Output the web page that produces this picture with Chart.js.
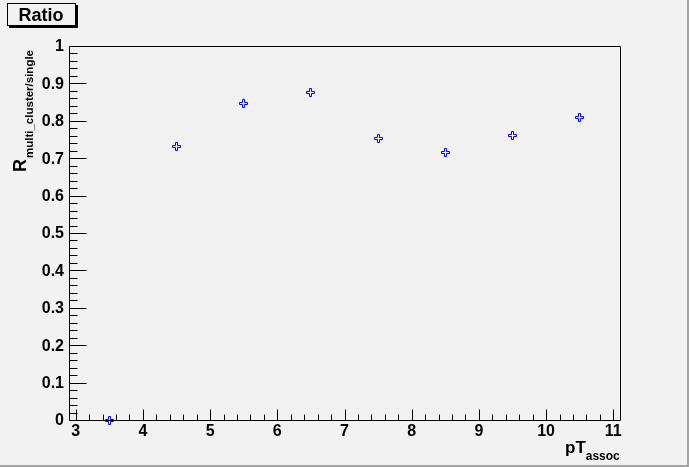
<!DOCTYPE html>
<html>
<head>
<meta charset="utf-8">
<script src="https://cdn.jsdelivr.net/npm/chart.js@4.4.0/dist/chart.umd.min.js"></script>
<style>
  html, body { margin: 0; padding: 0; background: #f2f2f2; }
  #wrap { width: 689px; height: 467px; }
</style>
</head>
<body>
<div id="wrap"><canvas id="chart" width="689" height="467"></canvas></div>
<script>
// data
const ptAssoc = [3.5, 4.5, 5.5, 6.5, 7.5, 8.5, 9.5, 10.5];
const ratio = [0.0, 0.73, 0.845, 0.875, 0.753, 0.715, 0.76, 0.81];

// axis ticks
const xTicks = [3, 4, 5, 6, 7, 8, 9, 10, 11];
const xTickLabels = ["3", "4", "5", "6", "7", "8", "9", "10", "11"];
const yTicks = [0, 0.1, 0.2, 0.3, 0.4, 0.5, 0.6, 0.7, 0.8, 0.9, 1];
const yTickLabels = ["0", "0.1", "0.2", "0.3", "0.4", "0.5", "0.6", "0.7", "0.8", "0.9", "1"];

const FONT = "Liberation Sans, Arial, Helvetica, sans-serif";

// open cross marker, like ROOT marker 28
function crossMarker(color) {
  const c = document.createElement("canvas");
  c.width = 9;
  c.height = 9;
  const g = c.getContext("2d");
  const lo = 0.5, a = 3.5, b = 5.5, hi = 8.5;
  const pts = [[a, lo], [b, lo], [b, a], [hi, a], [hi, b], [b, b], [b, hi], [a, hi], [a, b], [lo, b], [lo, a], [a, a]];
  g.beginPath();
  pts.forEach(([x, y], i) => (i ? g.lineTo(x, y) : g.moveTo(x, y)));
  g.closePath();
  g.strokeStyle = color;
  g.lineWidth = 1;
  g.stroke();
  return c;
}

// canvas background + ROOT-ish frame, ticks pointing inward, title box, axis titles
const rootStyle = {
  id: "rootStyle",
  beforeDraw(chart) {
    const { ctx, width, height } = chart;
    ctx.save();
    ctx.fillStyle = "#f2f2f2";
    ctx.fillRect(0, 0, width, height);
    ctx.fillStyle = "#a3a3a3";
    ctx.fillRect(width - 2, 0, 2, height);
    ctx.fillRect(0, height - 2, width, 2);
    ctx.restore();
  },
  beforeDatasetsDraw(chart) {
    const { ctx, chartArea: ar, scales: { x, y } } = chart;
    const L = Math.round(ar.left) + 0.5, R = Math.round(ar.right) + 0.5;
    const T = Math.round(ar.top) + 0.5, B = Math.round(ar.bottom) + 0.5;
    ctx.save();
    ctx.strokeStyle = "#000";
    ctx.lineWidth = 1;
    ctx.beginPath();
    ctx.rect(L, T, R - L, B - T);
    // x ticks every 0.2, long at integers
    for (let i = 0; i <= 45; i++) {
      const v = 2 + i * 0.2;
      if (v < x.min - 1e-9 || v > x.max + 1e-9) continue;
      const px = Math.round(x.getPixelForValue(v)) + 0.5;
      const len = i % 5 === 0 ? 11 : 6;
      ctx.moveTo(px, B);
      ctx.lineTo(px, B - len);
    }
    // y ticks every 0.02, long at tenths
    for (let i = 0; i <= 50; i++) {
      const v = i * 0.02;
      const py = Math.round(y.getPixelForValue(v)) + 0.5;
      const len = i % 5 === 0 ? 17 : 8;
      ctx.moveTo(L, py);
      ctx.lineTo(L + len, py);
    }
    ctx.stroke();
    ctx.restore();
    // crisp markers
    ctx.imageSmoothingEnabled = false;
  },
  afterDatasetsDraw(chart) {
    chart.ctx.imageSmoothingEnabled = true;
  },
  afterDraw(chart) {
    const { ctx } = chart;
    ctx.save();
    // title box "Ratio"
    ctx.fillStyle = "#000";
    ctx.fillRect(9, 5, 69, 23);
    ctx.fillStyle = "#f2f2f2";
    ctx.fillRect(7, 3, 68, 22);
    ctx.strokeStyle = "#000";
    ctx.lineWidth = 1;
    ctx.strokeRect(7.5, 3.5, 68, 22);
    ctx.fillStyle = "#000";
    ctx.font = "bold 18px " + FONT;
    ctx.textBaseline = "alphabetic";
    ctx.textAlign = "center";
    ctx.fillText("Ratio", 41, 21);

    // x axis title pT_assoc
    ctx.textAlign = "left";
    ctx.font = "bold 17px " + FONT;
    ctx.fillText("pT", 565, 453);
    const w = ctx.measureText("pT").width;
    ctx.font = "bold 12px " + FONT;
    ctx.fillText("assoc", 565 + w, 460);

    // y axis title R_multi_cluster/single
    ctx.translate(26, 172);
    ctx.rotate(-Math.PI / 2);
    ctx.font = "bold 18px " + FONT;
    ctx.fillText("R", 0, 0);
    const wr = ctx.measureText("R").width;
    ctx.font = "bold 11.5px " + FONT;
    ctx.fillText("multi_cluster/single", wr + 1, 7);
    ctx.restore();
  }
};

new Chart(document.getElementById("chart"), {
  type: "scatter",
  data: {
    datasets: [{
      label: "ratio",
      data: ptAssoc.map((v, i) => ({ x: v, y: ratio[i] })),
      pointStyle: crossMarker("#0000ff"),
      pointRadius: 5,
      clip: false
    }]
  },
  options: {
    responsive: false,
    animation: false,
    devicePixelRatio: 1,
    layout: { padding: { left: 0, right: 69, top: 46, bottom: 0 } },
    plugins: {
      legend: { display: false },
      tooltip: { enabled: false },
      title: { display: false }
    },
    scales: {
      x: {
        type: "linear",
        min: 2.9,
        max: 11.1,
        afterBuildTicks: (s) => { s.ticks = xTicks.map((v) => ({ value: v })); },
        afterFit: (s) => { s.height = 47; },
        grid: { display: false, drawTicks: false },
        border: { display: false },
        ticks: {
          padding: 2,
          color: "#000",
          font: { family: FONT, size: 16, weight: "bold" },
          maxRotation: 0,
          autoSkip: false,
          callback: (v, i) => xTickLabels[i]
        }
      },
      y: {
        type: "linear",
        min: 0,
        max: 1,
        afterBuildTicks: (s) => { s.ticks = yTicks.map((v) => ({ value: v })); },
        afterFit: (s) => { s.width = 69; },
        grid: { display: false, drawTicks: false },
        border: { display: false },
        ticks: {
          padding: 5,
          labelOffset: 1,
          color: "#000",
          font: { family: FONT, size: 16, weight: "bold" },
          autoSkip: false,
          callback: (v, i) => yTickLabels[i]
        }
      }
    }
  },
  plugins: [rootStyle]
});
</script>
</body>
</html>
